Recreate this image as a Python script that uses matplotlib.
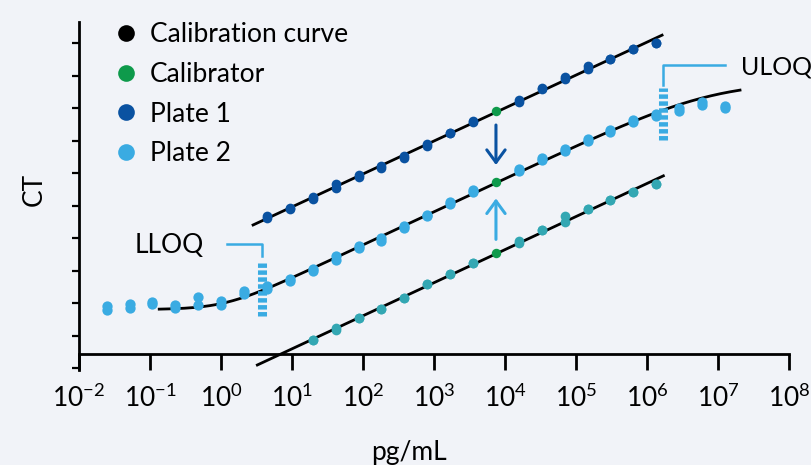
import numpy as np
import matplotlib
matplotlib.use('Agg')
import matplotlib.pyplot as plt
from matplotlib.lines import Line2D
from matplotlib.ticker import FixedLocator, NullLocator

plt.rcParams['font.family'] = ['Lato', 'DejaVu Sans']
plt.rcParams['lines.scale_dashes'] = False

# dilution series (pg/mL)
conc = np.array([0.0245, 0.0515, 0.108, 0.228, 0.479, 1.0, 2.11, 4.45, 9.33, 19.6,
                 41.2, 86.7, 182, 383, 804, 1690, 3550, 7460, 15700, 33000,
                 69200, 146000, 305000, 643000, 1350000, 2840000, 5960000, 12500000])
calibrator = 7460
lloq = 3.74
uloq = 1.66e6
xticks = [1e-2, 1e-1, 1e0, 1e1, 1e2, 1e3, 1e4, 1e5, 1e6, 1e7, 1e8]

# Plate 1 (conc[7:25]) - CT in axis tick units, spread = half distance between replicates
p1_ct = [4.64, 4.91, 5.22, 5.60, 5.91, 6.18, 6.50, 6.86, 7.22, 7.60, 7.92, 8.22, 8.59,
         8.93, 9.25, 9.50, 9.82, 10.01]
p1_spread = [0.03, 0.02, 0.03, 0.06, 0.035, 0.035, 0.03, 0.03, 0.0, 0.015, 0.0, 0.035,
             0.015, 0.035, 0.035, 0.0, 0.0, 0.0]

# Plate 2 (all of conc)
p2_ct = [1.84, 1.92, 1.99, 1.89, 2.06, 1.99, 2.32, 2.48, 2.71, 3.02, 3.39, 3.73, 3.96,
         4.35, 4.69, 5.07, 5.45, 5.73, 6.09, 6.43, 6.71, 7.02, 7.29, 7.60, 7.79, 7.97,
         8.15, 8.04]
p2_spread = [0.06, 0.06, 0.03, 0.04, 0.13, 0.06, 0.05, 0.035, 0.04, 0.04, 0.06, 0.04,
             0.04, 0.03, 0.025, 0.035, 0.04, 0.0, 0.04, 0.025, 0.04, 0.04, 0.035, 0.035,
             0.025, 0.045, 0.04, 0.04]

# third curve (conc[9:25])
p3_ct = [0.86, 1.20, 1.53, 1.81, 2.15, 2.58, 2.88, 3.22, 3.55, 3.87, 4.25, 4.59, 4.88,
         5.17, 5.43, 5.65]
p3_spread = [0.0, 0.04, 0.0, 0.0, 0.0, 0.0, 0.0, 0.0, 0.0, 0.035, 0.0, 0.085, 0.0, 0.0,
             0.0, 0.0]

# Plate 2 fit: linear in log conc with soft floor / cap
p2_fit = dict(intercept=1.75, slope=1.02, floor=1.8, floor_soft=0.3, cap=8.8, cap_soft=0.6)

c_dark = '#0a52a1'
c_light = '#3aabe2'
c_teal = '#33a7b3'
c_green = '#0e9a4b'
bg = '#f1f3f8'

fig = plt.figure(figsize=(8.12, 4.65), dpi=100, facecolor=bg)
ax = fig.add_axes([79 / 812, 95 / 465, 710 / 812, 348 / 465], facecolor=bg)
ax.set_xscale('log')
ax.set_xlim(1e-2, 1e8)
ax.set_ylim(-0.06, 10.65)

# fitted curves
series = [(conc[7:25], p1_ct, (2.83, 1.63e6)),
          (conc[9:25], p3_ct, (3.25, 1.7e6))]
for x, ct, (lo, hi) in series:
    k, b = np.polyfit(np.log10(x), ct, 1)
    xx = np.logspace(np.log10(lo), np.log10(hi), 50)
    ax.plot(xx, b + k * np.log10(xx), color='black', lw=2, zorder=2)

f = p2_fit
lx = np.linspace(-0.87, 7.31, 300)
lin = f['intercept'] + f['slope'] * lx
yy = f['floor'] + f['floor_soft'] * np.log(1 + np.exp((lin - f['floor']) / f['floor_soft']))
yy = f['cap'] - f['cap_soft'] * np.log(1 + np.exp((f['cap'] - yy) / f['cap_soft']))
ax.plot(10 ** lx, yy, color='black', lw=2, zorder=2)

# points
for x, ct, sp, col, ms in [(conc[7:25], p1_ct, p1_spread, c_dark, 7.0),
                           (conc, p2_ct, p2_spread, c_light, 7.4),
                           (conc[9:25], p3_ct, p3_spread, c_teal, 7.0)]:
    ct = np.array(ct)
    sp = np.array(sp)
    m = x != calibrator
    for s in (1, -1):
        ax.plot(x[m], ct[m] + s * sp[m], 'o', color=col, ms=ms, mew=0, zorder=3)
    ax.plot(x[~m], ct[~m], 'o', color=c_green, ms=6.8, mew=0, zorder=4)

# calibrator arrows
arrow = dict(arrowstyle='->,head_length=0.45,head_width=0.33', lw=2.2,
             shrinkA=0, shrinkB=0, mutation_scale=20)
ax.annotate('', xy=(calibrator, 6.25), xytext=(calibrator, 7.48),
            arrowprops=dict(arrow, color=c_dark))
ax.annotate('', xy=(calibrator, 5.22), xytext=(calibrator, 3.96),
            arrowprops=dict(arrow, color=c_light))

# LLOQ / ULOQ markers
ax.plot([lloq, lloq], [1.6, 3.22], color=c_light, lw=6.5, dashes=(3.2, 1.8), zorder=2.5)
ax.plot([10 ** 0.08, lloq, lloq], [3.815, 3.815, 3.45], color=c_light, lw=1.8)
ax.text(10 ** -0.73, 3.78, 'LLOQ', fontsize=19, ha='center', va='center')
ax.plot([uloq, uloq], [7.02, 8.62], color=c_light, lw=6.5, dashes=(3.2, 1.8), zorder=2.5)
ax.plot([10 ** 7.1, uloq, uloq], [9.32, 9.32, 8.71], color=c_light, lw=1.8)
ax.text(10 ** 7.33, 9.25, 'ULOQ', fontsize=18, ha='left', va='center', clip_on=False)

# axes styling
for s in ['top', 'right']:
    ax.spines[s].set_visible(False)
ax.spines['left'].set_linewidth(2)
ax.spines['bottom'].set_linewidth(2)
ax.spines['bottom'].set_position(('data', 0.43))
ax.xaxis.set_major_locator(FixedLocator(xticks))
ax.xaxis.set_minor_locator(NullLocator())
ax.set_yticks(range(11))
ax.set_yticklabels([])
ax.tick_params(axis='x', direction='out', length=11.5, width=2, pad=10, labelsize=19)
ax.tick_params(axis='y', direction='out', length=5, width=1.6)

ax.set_xlabel('pg/mL', fontsize=19)
ax.xaxis.set_label_coords(0.465, -0.20)
ax.set_ylabel('CT', fontsize=19)
ax.yaxis.set_label_coords(-0.045, 0.52)

handles = [Line2D([], [], marker='o', ls='', color=c, ms=12, mew=0)
           for c in ['black', c_green, c_dark, c_light]]
ax.legend(handles, ['Calibration curve', 'Calibrator', 'Plate 1', 'Plate 2'],
          loc='upper left', bbox_to_anchor=(113 / 812, 443 / 465),
          bbox_transform=fig.transFigure, frameon=False, fontsize=19,
          handlelength=1.0, handletextpad=0.4, labelspacing=0.56,
          borderpad=0, borderaxespad=0)

fig.savefig('out.png', dpi=100, facecolor=bg)
